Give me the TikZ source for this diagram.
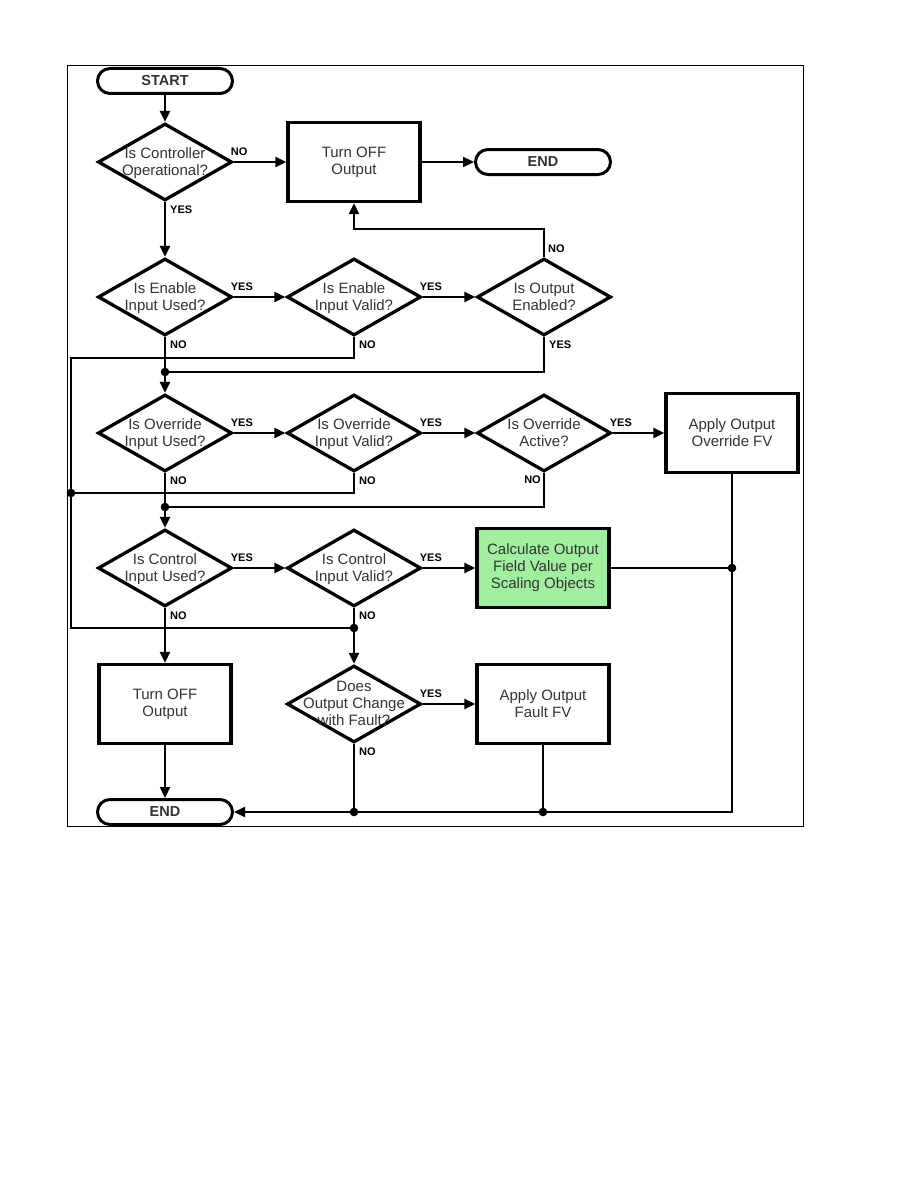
\documentclass[tikz,border=0pt]{standalone}
\usepackage{fontspec}
\setmainfont{Liberation Sans}
\usetikzlibrary{arrows.meta,calc,shapes.geometric}
\definecolor{CalcGreen}{HTML}{A0F0A0}
\definecolor{BodyGray}{HTML}{333333}
\newcommand{\dtxt}[1]{\raisebox{-.32em}[0pt][0pt]{\makebox[0pt]{\begin{tabular}{@{}c@{}}#1\end{tabular}}}}
\tikzset{
  decision/.style={diamond,draw=black,line width=3.3pt,minimum width=134pt,minimum height=77pt,inner sep=0pt,text=BodyGray,font=\fontsize{15}{17}\selectfont},
  process/.style={rectangle,draw=black,line width=3.3pt,minimum width=132pt,minimum height=79pt,inner sep=0pt,align=center,text=BodyGray,font=\fontsize{15}{17}\selectfont},
  terminal/.style={rectangle,rounded corners=12.5pt,draw=black,line width=3pt,minimum width=135pt,minimum height=25pt,inner sep=0pt,text=BodyGray,font=\bfseries\fontsize{14.5}{17}\selectfont},
  link/.style={draw=black,line width=2.2pt},
  flow/.style={link,-{Triangle[length=11pt,width=10pt]}},
  yesno/.style={font=\bfseries\fontsize{11}{12}\selectfont,inner sep=0pt,text=black}
}
\begin{document}
\begin{tikzpicture}[x=1pt,y=-1pt]
  \fill[white] (0,0) rectangle (918,1188);
  \useasboundingbox (0,0) rectangle (918,1188);
  \draw[line width=1pt] (67,66) rectangle (803,826);
  % shapes
  \node[terminal] (start) at (165,81) {START};
  \node[decision] (op) at (165,162) {\dtxt{Is Controller\\Operational?}};
  \node[process] (offa) at (354,162) {Turn OFF\\Output};
  \node[terminal] (enda) at (543,162) {END};
  \node[decision] (enused) at (165,297) {\dtxt{Is Enable\\Input Used?}};
  \node[decision] (envalid) at (354,297) {\dtxt{Is Enable\\Input Valid?}};
  \node[decision] (outen) at (544,297) {\dtxt{Is Output\\Enabled?}};
  \node[decision] (ovused) at (165,433) {\dtxt{Is Override\\Input Used?}};
  \node[decision] (ovvalid) at (354,433) {\dtxt{Is Override\\Input Valid?}};
  \node[decision] (ovactive) at (544,433) {\dtxt{Is Override\\Active?}};
  \node[process] (ovapply) at (732,433) {Apply Output\\Override FV};
  \node[decision] (ctused) at (165,568) {\dtxt{Is Control\\Input Used?}};
  \node[decision] (ctvalid) at (354,568) {\dtxt{Is Control\\Input Valid?}};
  \node[process,fill=CalcGreen] (calc) at (543,568) {Calculate Output\\Field Value per\\Scaling Objects};
  \node[process] (offb) at (165,704) {Turn OFF\\Output};
  \node[decision] (fault) at (354,704) {\dtxt{Does\\Output Change\\with Fault?}};
  \node[process] (faultfv) at (543,704) {Apply Output\\Fault FV};
  \node[terminal] (endb) at (165,812) {END};
  % junctions
  \coordinate (ja) at (165,372);
  \coordinate (jb) at (165,507);
  \coordinate (jc) at (71,493);
  \coordinate (jd) at (354,628);
  \coordinate (je) at (732,568);
  \coordinate (jf) at (543,812);
  \coordinate (jg) at (354,812);
  \coordinate (jh) at (732,812);
  \coordinate (busa) at (71,358);
  \coordinate (busb) at (71,628);
  % connectors
  \draw[flow] (start) -- (op);
  \draw[flow] (op) -- (offa);
  \draw[flow] (offa) -- (enda);
  \draw[flow] (op) -- (enused);
  \draw[flow] (enused) -- (envalid);
  \draw[flow] (envalid) -- (outen);
  \draw[flow] (outen.north) -- ++(0,-28) -| (offa.south);
  \draw[link] (enused.south) -- (ja);
  \draw[link] (envalid.south) |- (busa) -- (busb) -- (jd);
  \draw[link] (outen.south) |- (ja);
  \draw[flow] (ja) -- (ovused.north);
  \draw[flow] (ovused) -- (ovvalid);
  \draw[flow] (ovvalid) -- (ovactive);
  \draw[flow] (ovactive) -- (ovapply);
  \draw[link] (ovused.south) -- (jb);
  \draw[link] (ovvalid.south) |- (jc);
  \draw[link] (ovactive.south) |- (jb);
  \draw[flow] (jb) -- (ctused.north);
  \draw[flow] (ctused) -- (ctvalid);
  \draw[flow] (ctvalid) -- (calc);
  \draw[link] (calc) -- (je);
  \draw[flow] (ovapply.south) -- (jh) -- (endb.east);
  \draw[flow] (ctused) -- (offb);
  \draw[link] (ctvalid.south) -- (jd);
  \draw[flow] (jd) -- (fault.north);
  \draw[flow] (fault) -- (faultfv);
  \draw[link] (fault.south) -- (jg);
  \draw[link] (faultfv.south) -- (jf);
  \draw[flow] (offb) -- (endb);
  \foreach \j in {ja,jb,jc,jd,je,jf,jg}
    \fill (\j) circle[radius=4.3pt];
  % branch labels
  \foreach \n/\t in {op/NO,enused/YES,envalid/YES,ovused/YES,ovvalid/YES,ovactive/YES,ctused/YES,ctvalid/YES,fault/YES}
    \node[yesno,anchor=west] (\n-e) at ([xshift=-3pt,yshift=10pt]\n.east) {\t};
  \foreach \n/\t in {op/YES,enused/NO,envalid/NO,outen/YES,ovused/NO,ovvalid/NO,ctused/NO,ctvalid/NO,fault/NO}
    \node[yesno,anchor=west] (\n-s) at ([xshift=5pt,yshift=-8pt]\n.south) {\t};
  \node[yesno,anchor=west] (outen-n) at ([xshift=4pt,yshift=8pt]outen.north) {NO};
  \node[yesno,anchor=east] (ovactive-s) at ([xshift=-3pt,yshift=-7pt]ovactive.south) {NO};
\end{tikzpicture}
\end{document}
